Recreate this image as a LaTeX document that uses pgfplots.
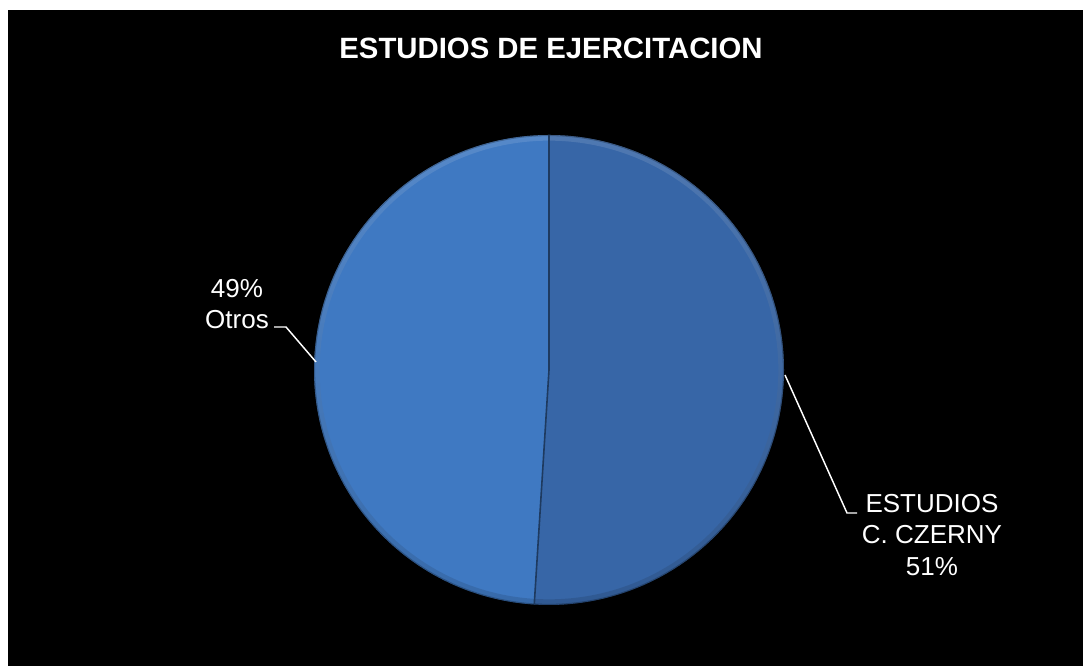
\documentclass[border=0pt]{standalone}
\usepackage{fontspec}
\setmainfont{Liberation Sans}
\usepackage{pgfplots}
\usepackage{pgfplotstable}
\pgfplotsset{compat=1.18}
\definecolor{sliceA}{HTML}{3766A7}
\definecolor{sliceB}{HTML}{3F79C2}
\definecolor{sliceEdge}{HTML}{1E3A5F}

% shares in percent, clockwise from 12 o'clock
\pgfplotstableread[col sep=comma]{
label,share
ESTUDIOS C. CZERNY,51
Otros,49
}\piedata

\begin{document}
\begin{tikzpicture}
\pgfplotstablegetelem{0}{share}\of\piedata \let\sa\pgfplotsretval
\pgfplotstablegetelem{1}{share}\of\piedata \let\sb\pgfplotsretval
\pgfmathsetmacro\aA{90}
\pgfmathsetmacro\aB{90-3.6*\sa}
\pgfmathsetmacro\aC{\aB-3.6*\sb}
\pgfmathsetmacro\bx{549+235*cos(\aB)}
\pgfmathsetmacro\by{296+235*sin(\aB)}
\begin{axis}[
  x=0.75pt, y=0.75pt,
  xmin=0, xmax=1083, ymin=0, ymax=666,
  hide axis, clip=false
]
\fill[white] (axis cs:0,0) rectangle (axis cs:1083,666);
\fill[black] (axis cs:8,0) rectangle (axis cs:1083,656);

\fill[sliceA] (axis cs:549,296) -- (axis cs:549,531)
  arc[start angle=\aA, end angle=\aB, radius=176.25pt] -- cycle;
\fill[sliceB] (axis cs:549,296) -- (axis cs:\bx,\by)
  arc[start angle=\aB, end angle=\aC, radius=176.25pt] -- cycle;

% soft bevel on the rim
\shade[top color=white, bottom color=black, fill opacity=0.12, even odd rule]
  (axis cs:549,296) circle[radius=176.25pt] circle[radius=172pt];
\draw[black, opacity=0.25, line width=0.8pt] (axis cs:549,296) circle[radius=175.8pt];
\draw[sliceEdge, line width=1.2pt] (axis cs:549,531) -- (axis cs:549,296) -- (axis cs:\bx,\by);

\node[white, font=\bfseries\fontsize{22}{26}\selectfont] at (axis cs:551,618) {ESTUDIOS DE EJERCITACION};

\node[white, font=\fontsize{19.5}{23.5}\selectfont, align=center] at (axis cs:237,362) {49\%\\Otros};
\draw[white, line width=1.1pt] (axis cs:274,339) -- (axis cs:286,339) -- (axis cs:316,304);

\node[white, font=\fontsize{19.5}{23.5}\selectfont, align=center] at (axis cs:932,131) {ESTUDIOS\\C. CZERNY\\51\%};
\draw[white, line width=1.1pt] (axis cs:785,291) -- (axis cs:847,153) -- (axis cs:857,153);
\end{axis}
\end{tikzpicture}
\end{document}
